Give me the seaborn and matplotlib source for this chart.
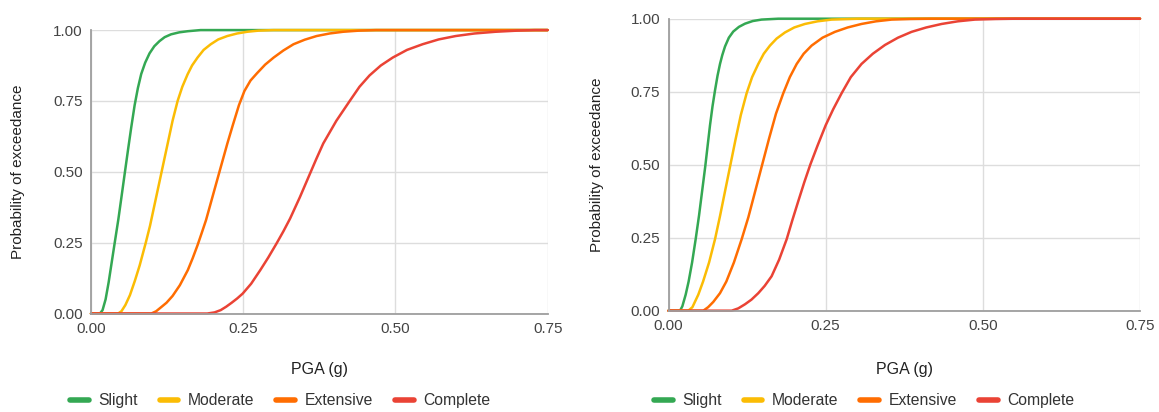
import matplotlib
matplotlib.use("Agg")
import matplotlib.pyplot as plt
from matplotlib.lines import Line2D
import pandas as pd
import seaborn as sns

states = ['Slight', 'Moderate', 'Extensive', 'Complete']
colors = ['#34A853', '#FBBC04', '#FF6D01', '#EA4335']

y_ticks = [0.0, 0.25, 0.5, 0.75, 1.0]
x_ticks = [0.0, 0.25, 0.5, 0.75]

# left chart, values
left_slight_x = [0, 0.0147, 0.019, 0.024, 0.029, 0.034, 0.039, 0.045, 0.050, 0.0558, 0.061, 0.066, 0.0717,
                 0.077, 0.0825, 0.089, 0.0962, 0.104, 0.1125, 0.121, 0.1315, 0.145, 0.159, 0.180, 0.75]
left_slight_y = [0, 0, 0.012, 0.05, 0.11, 0.18, 0.25, 0.333, 0.41, 0.5, 0.58, 0.655, 0.735,
                 0.795, 0.845, 0.885, 0.918, 0.943, 0.961, 0.975, 0.985, 0.992, 0.996, 1, 1]

left_moderate_x = [0, 0.0445, 0.050, 0.0565, 0.064, 0.072, 0.080, 0.090, 0.097, 0.104, 0.111, 0.118, 0.126,
                   0.134, 0.1423, 0.150, 0.1587, 0.166, 0.175, 0.185, 0.1967, 0.209, 0.2239, 0.24, 0.2565,
                   0.275, 0.300, 0.75]
left_moderate_y = [0, 0, 0.008, 0.03, 0.065, 0.115, 0.17, 0.25, 0.31, 0.38, 0.45, 0.52, 0.60,
                   0.68, 0.75, 0.80, 0.844, 0.875, 0.903, 0.93, 0.95, 0.967, 0.979, 0.988, 0.994,
                   0.998, 1, 1]

left_extensive_x = [0, 0.099, 0.107, 0.115, 0.124, 0.134, 0.146, 0.159, 0.167, 0.175, 0.182, 0.189, 0.200,
                    0.211, 0.224, 0.233, 0.243, 0.252, 0.262, 0.2728, 0.286, 0.300, 0.316, 0.3326, 0.351,
                    0.3706, 0.392, 0.414, 0.44, 0.468, 0.75]
left_extensive_y = [0, 0, 0.008, 0.022, 0.038, 0.062, 0.10, 0.153, 0.195, 0.241, 0.285, 0.33, 0.415,
                    0.5, 0.6, 0.665, 0.735, 0.785, 0.822, 0.848, 0.878, 0.903, 0.928, 0.95, 0.966,
                    0.979, 0.988, 0.994, 0.998, 1, 1]

left_complete_x = [0, 0.191, 0.203, 0.213, 0.222, 0.231, 0.240, 0.249, 0.263, 0.278, 0.291, 0.305, 0.316,
                   0.327, 0.343, 0.359, 0.370, 0.3815, 0.403, 0.425, 0.441, 0.4575, 0.476, 0.4956, 0.519,
                   0.5446, 0.571, 0.599, 0.63, 0.664, 0.70, 0.729, 0.75]
left_complete_y = [0, 0, 0.004, 0.012, 0.024, 0.038, 0.053, 0.07, 0.105, 0.153, 0.197, 0.248, 0.29,
                   0.335, 0.41, 0.49, 0.545, 0.6, 0.68, 0.75, 0.80, 0.84, 0.875, 0.903, 0.93,
                   0.95, 0.967, 0.979, 0.988, 0.994, 0.998, 1, 1]

# right chart
right_slight_x = [0, 0.0183, 0.022, 0.0273, 0.032, 0.0375, 0.0432, 0.0485, 0.0535, 0.0585, 0.0625, 0.066,
                  0.070, 0.074, 0.078, 0.0819, 0.0855, 0.0899, 0.096, 0.103, 0.112, 0.1217, 0.134, 0.148,
                  0.1746, 0.75]
right_slight_y = [0, 0, 0.015, 0.055, 0.10, 0.165, 0.245, 0.325, 0.41, 0.495, 0.57, 0.635,
                  0.70, 0.755, 0.805, 0.845, 0.875, 0.905, 0.935, 0.956, 0.972, 0.983, 0.992, 0.997,
                  1, 1]

right_moderate_x = [0, 0.0315, 0.038, 0.0474, 0.055, 0.0645, 0.074, 0.082, 0.090, 0.0985, 0.1065, 0.115,
                    0.1243, 0.133, 0.1428, 0.1515, 0.1614, 0.172, 0.1853, 0.20, 0.217, 0.237, 0.2595,
                    0.302, 0.75]
right_moderate_y = [0, 0, 0.012, 0.055, 0.10, 0.165, 0.245, 0.325, 0.41, 0.5, 0.585, 0.67,
                    0.745, 0.80, 0.845, 0.88, 0.908, 0.932, 0.953, 0.97, 0.982, 0.991, 0.997,
                    1, 1]

right_extensive_x = [0, 0.0553, 0.063, 0.0712, 0.0819, 0.092, 0.104, 0.1164, 0.127, 0.138, 0.149, 0.160,
                     0.171, 0.1826, 0.193, 0.2039, 0.215, 0.2277, 0.245, 0.2648, 0.285, 0.307, 0.33,
                     0.355, 0.385, 0.4186, 0.75]
right_extensive_y = [0, 0, 0.012, 0.03, 0.06, 0.10, 0.165, 0.245, 0.32, 0.41, 0.5, 0.59,
                     0.675, 0.745, 0.80, 0.845, 0.88, 0.908, 0.935, 0.955, 0.97, 0.982, 0.991,
                     0.997, 0.999, 1, 1]

right_complete_x = [0, 0.1005, 0.111, 0.1217, 0.132, 0.1428, 0.153, 0.164, 0.176, 0.188, 0.197, 0.2064,
                    0.216, 0.2255, 0.237, 0.25, 0.262, 0.2754, 0.29, 0.307, 0.325, 0.3443, 0.365,
                    0.3867, 0.41, 0.4345, 0.46, 0.4874, 0.52, 0.551, 0.75]
right_complete_y = [0, 0, 0.008, 0.022, 0.038, 0.06, 0.085, 0.118, 0.175, 0.245, 0.31, 0.375,
                    0.44, 0.5, 0.565, 0.635, 0.69, 0.745, 0.80, 0.845, 0.88, 0.91, 0.935,
                    0.955, 0.97, 0.982, 0.991, 0.997, 0.999, 1, 1]


def make_frame(curves):
    frames = []
    for state, (xs, ys) in zip(states, curves):
        frames.append(pd.DataFrame({'pga': xs, 'prob': ys, 'state': state}))
    return pd.concat(frames, ignore_index=True)


left_df = make_frame([(left_slight_x, left_slight_y), (left_moderate_x, left_moderate_y),
                      (left_extensive_x, left_extensive_y), (left_complete_x, left_complete_y)])
right_df = make_frame([(right_slight_x, right_slight_y), (right_moderate_x, right_moderate_y),
                       (right_extensive_x, right_extensive_y), (right_complete_x, right_complete_y)])

sns.set_style("white")
plt.rcParams['font.family'] = ['Liberation Sans', 'DejaVu Sans']

fig = plt.figure(figsize=(11.59, 4.12), dpi=100)
ax_left = fig.add_axes([0.0785, 0.239, 0.394, 0.688])
ax_right = fig.add_axes([0.5768, 0.2459, 0.4068, 0.7087])

panels = [(ax_left, left_df, -0.144, -0.171, 0.2416), (ax_right, right_df, -0.137, -0.176, 0.7455)]

for ax, df, ylab_x, xlab_y, leg_x in panels:
    sns.lineplot(data=df, x='pga', y='prob', hue='state', hue_order=states, palette=colors,
                 estimator=None, sort=False, legend=False, linewidth=1.8, ax=ax)
    for line in ax.lines:
        line.set_clip_on(False)
        line.set_solid_joinstyle('round')
    ax.set_xlim(0, 0.75)
    ax.set_ylim(0, 1)
    ax.set_xticks(x_ticks)
    ax.set_yticks(y_ticks)
    ax.set_xticklabels([f"{t:.2f}" for t in x_ticks])
    ax.set_yticklabels([f"{t:.2f}" for t in y_ticks])
    ax.grid(True, color='#dddddd', linewidth=1.0)
    ax.set_axisbelow(True)
    for side in ['top', 'right']:
        ax.spines[side].set_visible(False)
    for side in ['left', 'bottom']:
        ax.spines[side].set_color('#9e9e9e')
        ax.spines[side].set_linewidth(1.3)
    ax.tick_params(axis='both', length=0, labelsize=11, labelcolor='#444444')
    ax.tick_params(axis='x', pad=6)
    ax.tick_params(axis='y', pad=6)
    ax.set_xlabel('PGA (g)', fontsize=11.5, color='#222222')
    ax.set_ylabel('Probability of exceedance', fontsize=11, color='#222222')
    ax.yaxis.set_label_coords(ylab_x, 0.5)
    ax.xaxis.set_label_coords(0.5, xlab_y)

    handles = [Line2D([0], [0], color=c, linewidth=4) for c in colors]
    fig.legend(handles, states, loc='center', bbox_to_anchor=(leg_x, 0.0267), ncol=4,
               frameon=False, fontsize=11.3, handlelength=1.2, handletextpad=0.6,
               columnspacing=1.4, labelcolor='#333333')

fig.savefig('out.png', dpi=100)
